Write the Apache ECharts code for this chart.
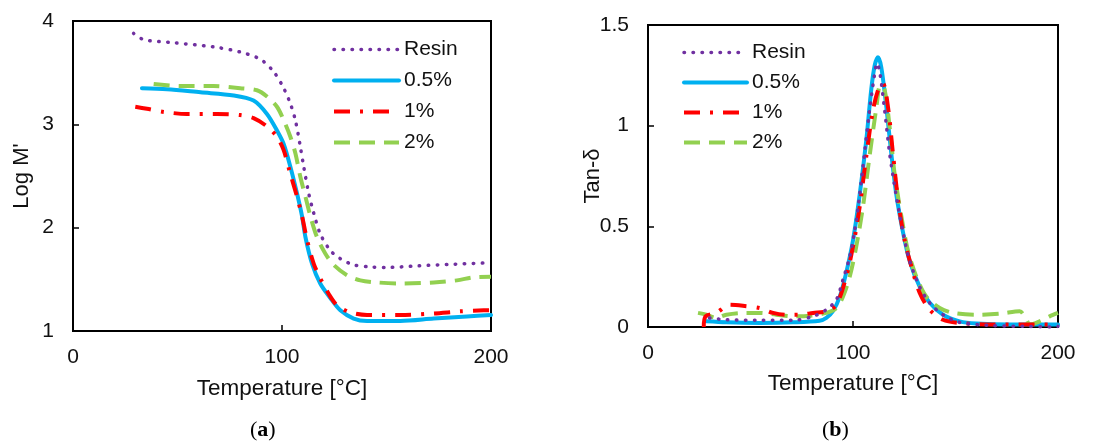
<!DOCTYPE html>
<html>
<head>
<meta charset="utf-8">
<script src="https://cdn.jsdelivr.net/npm/echarts@6/dist/echarts.min.js"></script>
<style>html,body{margin:0;padding:0;background:#fff}#c{width:1094px;height:443px}</style>
</head>
<body>
<div id="c"></div>
<script>
// Panel (a): Log M' vs Temperature [°C]
const resinLogM = [[29,3.88],[33.8,3.82],[48,3.79],[67,3.75],[80,3.70],[89.6,3.63],[96,3.51],[100.8,3.35],[104,3.2],[106.4,3.04],[108.8,2.78],[110.4,2.59],[112.8,2.33],[115.2,2.14],[118.3,1.94],[123.1,1.78],[127.9,1.70],[134.3,1.64],[142.3,1.62],[150.2,1.615],[164.6,1.63],[180.5,1.645],[200,1.66]];
const p05LogM = [[33,3.35],[45,3.34],[61,3.31],[76.9,3.28],[86.4,3.23],[92.8,3.10],[97.6,2.94],[100.8,2.81],[104,2.59],[107.2,2.33],[109.6,2.11],[111.2,1.91],[114.4,1.65],[118.3,1.46],[123.1,1.32],[127.9,1.20],[134.3,1.12],[140.7,1.097],[156.6,1.097],[172.6,1.12],[188.5,1.14],[200,1.155]];
const p1LogM = [[29.8,3.17],[35.4,3.15],[43.4,3.12],[54.5,3.10],[68.9,3.10],[80,3.09],[86.4,3.06],[92.8,2.98],[97.6,2.88],[100.8,2.75],[104,2.52],[107.2,2.30],[109.6,2.11],[112,1.88],[115.2,1.65],[118.3,1.51],[122.3,1.36],[126.3,1.25],[132.7,1.18],[140.7,1.155],[156.6,1.155],[172.6,1.17],[185.3,1.19],[196.5,1.20],[200,1.20]];
const p2LogM = [[38.6,3.39],[51.4,3.37],[67.3,3.37],[80,3.35],[88,3.33],[92.8,3.27],[97.6,3.17],[100.8,3.04],[104,2.88],[106.4,2.72],[108.8,2.49],[111.2,2.30],[113.6,2.11],[116.7,1.91],[120.7,1.75],[124.7,1.64],[131.1,1.54],[137.5,1.49],[145.5,1.47],[156.6,1.46],[172.6,1.47],[183.7,1.49],[191.7,1.52],[200,1.525]];

// Panel (b): Tan-δ vs Temperature [°C]
const resinTan = [[30,0.045],[38,0.036],[54.5,0.033],[70.7,0.033],[80.5,0.053],[87,0.086],[91.9,0.136],[95.1,0.235],[98.4,0.35],[101.6,0.53],[104.9,0.80],[108.1,1.08],[110.6,1.26],[111.7,1.31],[113,1.27],[115.4,1.08],[117.9,0.86],[121.1,0.65],[124.4,0.47],[127.6,0.33],[132.5,0.20],[137.4,0.12],[143.9,0.061],[152,0.023],[168.3,0.007],[184.6,0.003],[197.6,0.0],[200,0.003]];
const p05Tan = [[28.5,0.028],[38.2,0.023],[54.5,0.02],[70.7,0.023],[83.7,0.031],[87,0.045],[90.2,0.078],[93.5,0.15],[96.7,0.27],[100,0.43],[103.3,0.66],[106.5,0.93],[108.9,1.18],[110.6,1.30],[112.2,1.34],[113.8,1.29],[116.3,1.09],[118.7,0.86],[121.1,0.66],[124.4,0.47],[127.6,0.33],[132.5,0.20],[137.4,0.12],[143.9,0.061],[152,0.028],[160.2,0.017],[176.4,0.012],[200,0.012]];
const p1Tan = [[27.2,0.0],[28.1,0.053],[33.3,0.07],[39.8,0.11],[46.3,0.105],[54.5,0.094],[61,0.07],[67.5,0.061],[74,0.061],[80.5,0.07],[87,0.078],[91.9,0.11],[96.7,0.25],[100,0.40],[103.3,0.60],[106.5,0.85],[109.8,1.08],[112.7,1.19],[114.6,1.21],[117.1,1.09],[119.5,0.86],[122,0.63],[125.2,0.43],[128.5,0.30],[132.5,0.17],[137.4,0.086],[143.9,0.036],[152,0.02],[168.3,0.012],[184.6,0.012],[200,0.012]];
const p2Tan = [[24.4,0.07],[28.5,0.061],[33.3,0.045],[38.2,0.061],[46.3,0.07],[54.5,0.07],[62.6,0.061],[70.7,0.053],[78.9,0.056],[87,0.07],[91.9,0.094],[95.1,0.15],[98.4,0.25],[101.6,0.40],[104.9,0.60],[108.1,0.85],[111.4,1.09],[113.3,1.20],[115.4,1.18],[117.9,0.99],[120.3,0.76],[123.6,0.55],[126.8,0.38],[130.9,0.25],[135.8,0.15],[142.3,0.094],[148.8,0.07],[160.2,0.061],[171.5,0.066],[181.3,0.078],[184.6,0.036],[186.2,0.012],[191,0.028],[195.9,0.053],[200,0.07]];

const seriesNames = ['Resin','0.5%','1%','2%'];
const xTitle = 'Temperature [°C]';
const yTitleA = "Log M'";
const yTitleB = 'Tan-δ';

const FONT = 'Liberation Sans, Arial, sans-serif';
const TXT = '#111';
const styles = {
  'Resin': {color:'#7030A0', width:3.5, type:[0.5,8.5], cap:'round'},
  '0.5%': {color:'#00B0F0', width:4, type:'solid', cap:'round'},
  '1%': {color:'#FF0000', width:4, type:[16,10,3,10], cap:'butt'},
  '2%': {color:'#92D050', width:4, type:[16,9], cap:'butt'}
};
function mk(name, data, idx){
  const s = styles[name];
  return {name, type:'line', data, xAxisIndex:idx, yAxisIndex:idx, symbol:'none', smooth:0.3,
    lineStyle:{color:s.color, width:s.width, type:s.type, cap:s.cap, join:'round'},
    itemStyle:{color:s.color}, z: name==='0.5%'?2:3};
}
function xAx(idx, gap){
  return {gridIndex:idx, type:'value', min:0, max:200, interval:100,
    name:xTitle, nameLocation:'middle', nameGap:gap, nameMoveOverlap:false,
    nameTextStyle:{fontFamily:FONT, fontSize:22.5, color:TXT},
    axisLine:{show:true, onZero:false, lineStyle:{color:'#000', width:2}},
    axisTick:{show:true, inside:true, length:6, lineStyle:{color:'#000', width:1.5}},
    axisLabel:{fontFamily:FONT, fontSize:21, color:TXT, margin:16},
    splitLine:{show:false}};
}
function yAx(idx, min, max, interval, name, gap){
  return {gridIndex:idx, type:'value', min, max, interval,
    name, nameLocation:'middle', nameGap:gap, nameMoveOverlap:false,
    nameTextStyle:{fontFamily:FONT, fontSize:22, color:TXT},
    axisLine:{show:true, onZero:false, lineStyle:{color:'#000', width:2}},
    axisTick:{show:true, inside:true, length:6, lineStyle:{color:'#000', width:1.5}},
    axisLabel:{fontFamily:FONT, fontSize:21, color:TXT, margin:19},
    splitLine:{show:false}};
}
function legend(left, top, w, gap){
  return {orient:'vertical', left, top, itemWidth:w, itemHeight:14, itemGap:gap,
    data:seriesNames.map(n => ({name:n, lineStyle:{width:styles[n].width, type:styles[n].type, cap:styles[n].cap, color:styles[n].color}})),
    selectedMode:false,
    itemStyle:{color:'rgba(0,0,0,0)', borderWidth:0, opacity:0},
    lineStyle:{width:4},
    textStyle:{fontFamily:FONT, fontSize:21, color:TXT, lineHeight:21}};
}
const chart = echarts.init(document.getElementById('c'), null, {renderer:'canvas'});
chart.setOption({
  animation:false,
  backgroundColor:'#fff',
  grid:[
    {left:73, top:21, width:418, height:310, show:true, borderColor:'#000', borderWidth:2, backgroundColor:'transparent'},
    {left:648, top:25, width:410, height:302, show:true, borderColor:'#000', borderWidth:2, backgroundColor:'transparent'}
  ],
  xAxis:[xAx(0,46), xAx(1,45)],
  yAxis:[yAx(0,1,4,1,yTitleA,40), yAx(1,0,1.5,0.5,yTitleB,44)],
  legend:[legend(327,34,65,10), legend(677,37,63,9)],
  series:[
    mk('2%', p2LogM, 0), mk('1%', p1LogM, 0), mk('0.5%', p05LogM, 0), mk('Resin', resinLogM, 0),
    mk('2%', p2Tan, 1), mk('1%', p1Tan, 1), mk('0.5%', p05Tan, 1), mk('Resin', resinTan, 1)
  ],
  graphic:[
    {type:'text', left:250, top:419, style:{text:'{p|(}{b|a}{p|)}', rich:{p:{fontFamily:'Liberation Serif', fontSize:22, fill:'#000'}, b:{fontFamily:'Liberation Serif', fontSize:22, fontWeight:'bold', fill:'#000'}}}},
    {type:'text', left:822, top:419, style:{text:'{p|(}{b|b}{p|)}', rich:{p:{fontFamily:'Liberation Serif', fontSize:22, fill:'#000'}, b:{fontFamily:'Liberation Serif', fontSize:22, fontWeight:'bold', fill:'#000'}}}}
  ]
});
</script>
</body>
</html>
